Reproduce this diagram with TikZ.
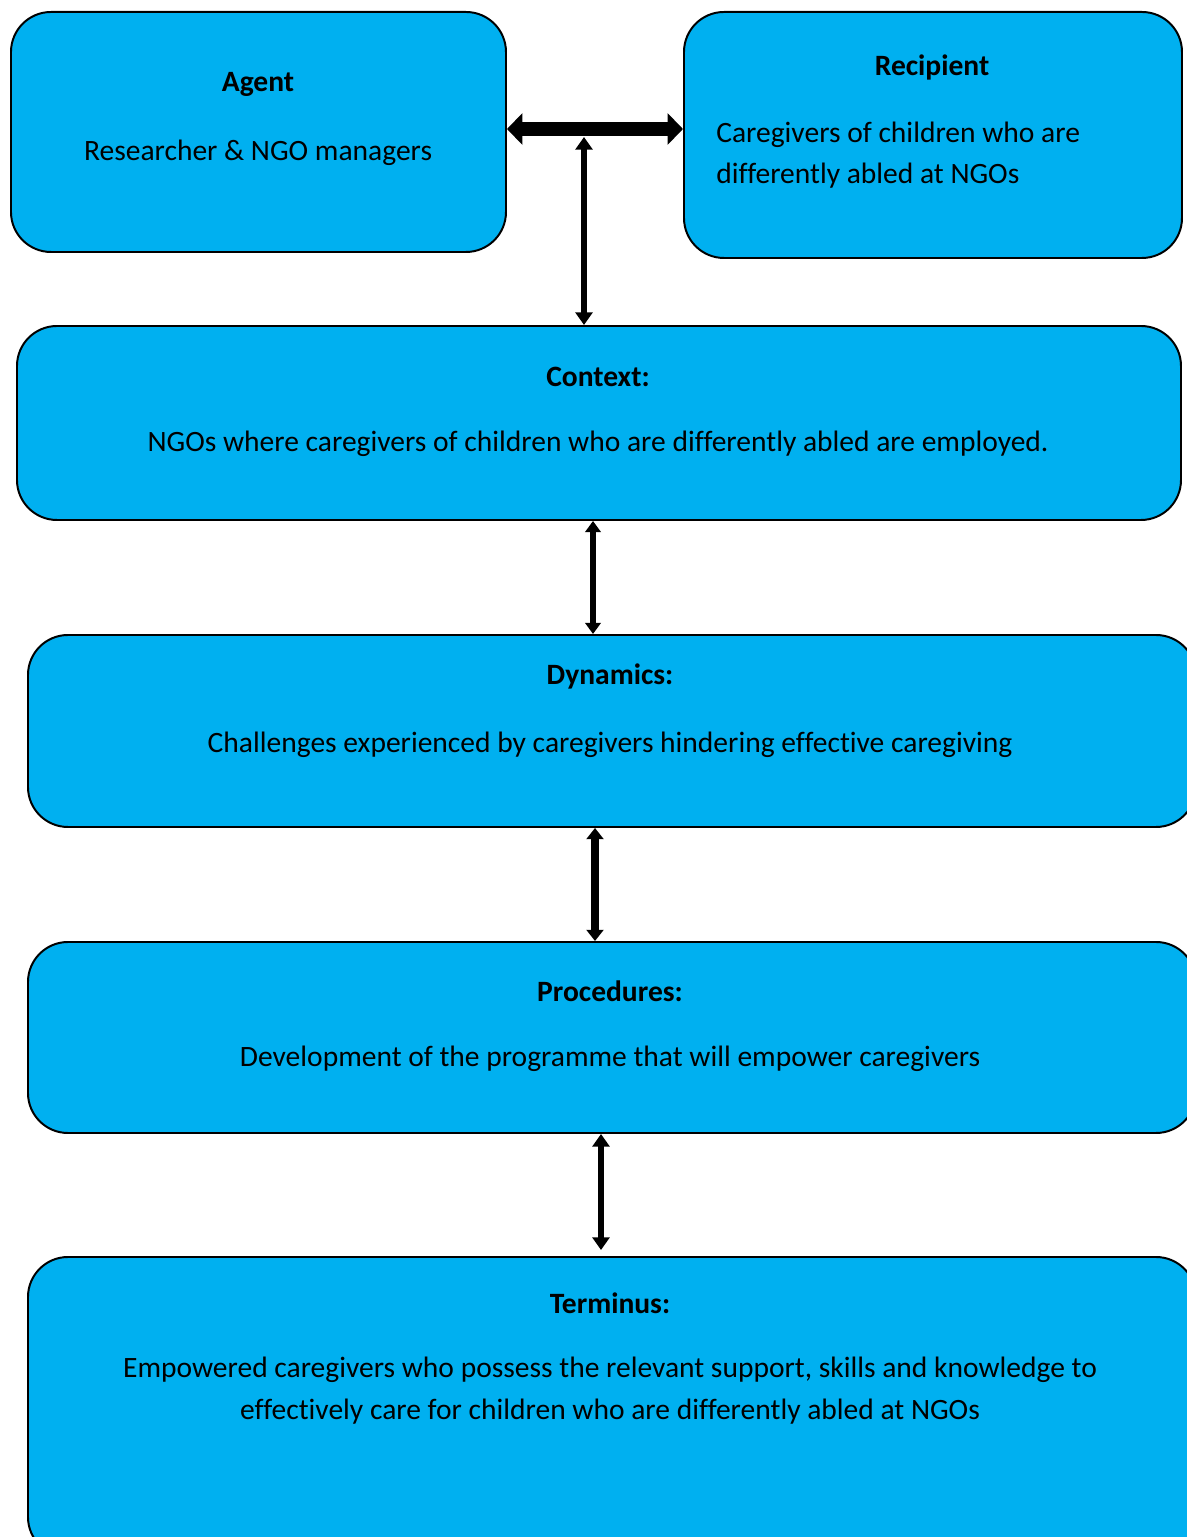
\documentclass[tikz,border=0pt]{standalone}
\usepackage{fontspec}
\setmainfont[Ligatures=NoCommon]{Carlito}
\usetikzlibrary{arrows.meta}
\definecolor{boxblue}{HTML}{00B0F0}
\begin{document}
\begin{tikzpicture}[x=0.025cm,y=-0.025cm,
  box/.style={draw=black, line width=1.4pt, fill=boxblue, rounded corners=1cm,
    inner sep=0pt, anchor=north west},
  txt/.style={font=\fontsize{21}{30}\selectfont, inner sep=0pt, yshift=-0.07cm},
  ttl/.style={txt, font=\fontsize{21}{30}\selectfont\bfseries},
]
\useasboundingbox (0,0) rectangle (1187,1537);
\clip (0,0) rectangle (1187,1537);

% boxes
\node[box, minimum width=495*0.025cm, minimum height=240*0.025cm] (agent) at (10,11) {};
\node[box, minimum width=498*0.025cm, minimum height=246*0.025cm] (recip) at (683,11) {};
\node[box, minimum width=1164*0.025cm, minimum height=194*0.025cm] (context) at (16,325) {};
\node[box, minimum width=1168*0.025cm, minimum height=192*0.025cm] (dyn) at (27,634) {};
\node[box, minimum width=1168*0.025cm, minimum height=191*0.025cm] (proc) at (27,941) {};
\node[box, minimum width=1168*0.025cm, minimum height=300*0.025cm] (term) at (27,1256) {};

% texts
\node[ttl] (agentT) at (258,82) {Agent};
\node[txt] (agentB) at (258,150) {Researcher \& NGO managers};
\node[ttl] (recipT) at (932,65) {Recipient};
\node[txt, anchor=west] (recipB1) at (716,132) {Caregivers of children who are};
\node[txt, anchor=west] (recipB2) at (716,173) {differently abled at NGOs};
\node[ttl] (contextT) at (598,374) {Context:};
\node[txt] (contextB) at (598,441) {NGOs where caregivers of children who are differently abled are employed.};
\node[ttl] (dynT) at (610,674) {Dynamics:};
\node[txt] (dynB) at (610,742) {Challenges experienced by caregivers hindering effective caregiving};
\node[ttl] (procT) at (610,988) {Procedures:};
\node[txt] (procB) at (610,1056) {Development of the programme that will empower caregivers};
\node[ttl] (termT) at (610,1300) {Terminus:};
\node[txt] (termB1) at (610,1367) {Empowered caregivers who possess the relevant support, skills and knowledge to};
\node[txt] (termB2) at (610,1409) {effectively care for children who are differently abled at NGOs};

% connectors
\coordinate (hl) at (agent.east |- 0,129);
\coordinate (hr) at (recip.west |- 0,129);
\coordinate (hm) at (584,137);
\draw[line width=10pt, {Triangle[width=22pt,length=11pt]}-{Triangle[width=22pt,length=11pt]}] (hl) -- (hr);
\draw[line width=4.2pt, {Triangle[width=12pt,length=9pt]}-{Triangle[width=12pt,length=9pt]}] (hm) -- (hm |- context.north);
\draw[line width=3.6pt, {Triangle[width=11pt,length=8pt]}-{Triangle[width=11pt,length=8pt]}] (593,519 |- context.south) -- (593,634 |- dyn.north);
\draw[line width=5pt, {Triangle[width=12pt,length=8pt]}-{Triangle[width=12pt,length=8pt]}] (595,826 |- dyn.south) -- (595,941 |- proc.north);
\draw[line width=4.2pt, {Triangle[width=12pt,length=9pt]}-{Triangle[width=12pt,length=9pt]}] (601,1132 |- proc.south) -- (601,1250);
\end{tikzpicture}
\end{document}
